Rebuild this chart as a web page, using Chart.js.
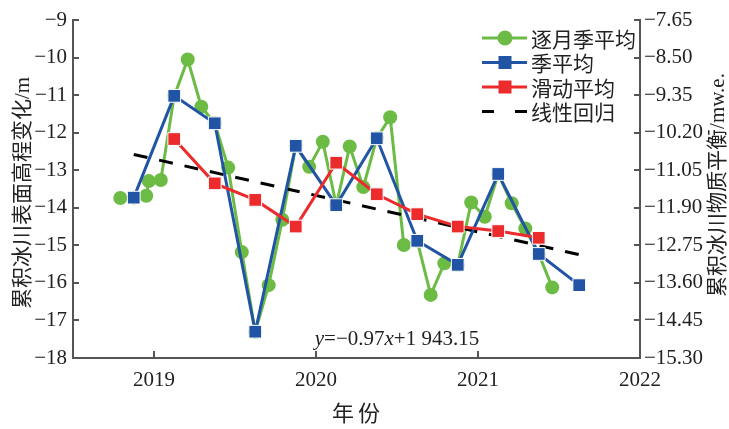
<!DOCTYPE html>
<html>
<head>
<meta charset="utf-8">
<script src="https://cdn.jsdelivr.net/npm/chart.js@4/dist/chart.umd.min.js"></script>
<style>
  html, body { margin: 0; padding: 0; background: #ffffff; }
  canvas { display: block; }
</style>
</head>
<body>
<canvas id="chart" width="729" height="429"></canvas>
<script>
// Monthly-rolling seasonal mean (decimal year, elevation change in m)
const monthlyX = [2018.792, 2018.875, 2018.952, 2018.968, 2019.042, 2019.125, 2019.208, 2019.292,
                  2019.375, 2019.458, 2019.542, 2019.625, 2019.708, 2019.792, 2019.875, 2019.958,
                  2020.042, 2020.125, 2020.208, 2020.292, 2020.375, 2020.458, 2020.542, 2020.625,
                  2020.708, 2020.792, 2020.875, 2020.958, 2021.042, 2021.125, 2021.208, 2021.292,
                  2021.375, 2021.458];
const monthlyY = [-13.74, -13.73, -13.68, -13.29, -13.26, -11.02, -10.05, -11.31,
                  -11.75, -12.93, -15.18, -17.30, -16.06, -14.32, -12.35, -12.91,
                  -12.24, -13.93, -12.37, -13.45, -12.15, -11.59, -14.99, -14.88,
                  -16.32, -15.48, -15.52, -13.86, -14.24, -13.10, -13.88, -14.55,
                  -15.23, -16.12];

// Seasonal mean
const quarterX = [2018.875, 2019.125, 2019.375, 2019.625, 2019.875, 2020.125,
                  2020.375, 2020.625, 2020.875, 2021.125, 2021.375, 2021.625];
const quarterY = [-13.73, -11.02, -11.75, -17.30, -12.35, -13.93,
                  -12.15, -14.88, -15.52, -13.10, -15.23, -16.06];

// Moving average
const movingX = [2019.125, 2019.375, 2019.625, 2019.875, 2020.125,
                 2020.375, 2020.625, 2020.875, 2021.125, 2021.375];
const movingY = [-12.17, -13.35, -13.79, -14.50, -12.80,
                 -13.64, -14.17, -14.50, -14.62, -14.80];

// Linear regression line: start value and slope (m per year)
const trendX = [2018.875, 2021.625];
const trendStart = -12.58;
const trendSlope = -0.97;

// Axis ticks
const yearTicks = [2019, 2020, 2021, 2022];
const leftTicks = [-18, -17, -16, -15, -14, -13, -12, -11, -10, -9];
const rightTicks = [-15.30, -14.45, -13.60, -12.75, -11.90, -11.05, -10.20, -9.35, -8.50, -7.65];

const seriesNames = ['逐月季平均', '季平均', '滑动平均', '线性回归'];

const GREEN = '#6cbb45';
const BLUE = '#2154a4';
const RED = '#ec2b2d';
const AXIS = '#555555';
const TEXT = '#222222';
const SERIF = "'Liberation Serif', 'Times New Roman', serif";
const CJK = "'Noto Sans CJK SC', sans-serif";
const MIXED = "'Liberation Serif', 'Noto Sans CJK SC', serif";

const pts = (xs, ys) => xs.map((x, i) => ({ x: x, y: ys[i] }));
const trendY = trendX.map(x => trendStart + trendSlope * (x - trendX[0]));
const fmt = (v, d) => (v < 0 ? '\u2212' : '') + Math.abs(v).toFixed(d);

const decor = {
  id: 'decor',
  afterDraw(chart) {
    const ctx = chart.ctx;
    const area = chart.chartArea;
    const sx = chart.scales.x, sy = chart.scales.y, sy2 = chart.scales.y2;
    ctx.save();

    // inward tick marks
    ctx.strokeStyle = AXIS;
    ctx.lineWidth = 2;
    ctx.beginPath();
    leftTicks.forEach(v => {
      const y = Math.round(sy.getPixelForValue(v));
      ctx.moveTo(area.left, y); ctx.lineTo(area.left + 6, y);
    });
    rightTicks.forEach(v => {
      const y = Math.round(sy2.getPixelForValue(v));
      ctx.moveTo(area.right - 6, y); ctx.lineTo(area.right, y);
    });
    yearTicks.slice(0, 3).forEach(v => {
      const x = Math.round(sx.getPixelForValue(v));
      ctx.moveTo(x, area.bottom); ctx.lineTo(x, area.bottom - 7);
    });
    ctx.stroke();

    // axis titles
    ctx.fillStyle = TEXT;
    ctx.textAlign = 'center';
    ctx.textBaseline = 'middle';
    ctx.font = '21px ' + MIXED;
    ctx.save();
    ctx.translate(23, 193);
    ctx.rotate(-Math.PI / 2);
    ctx.fillText('累积冰川表面高程变化/m', 0, 0);
    ctx.restore();
    ctx.save();
    ctx.translate(718, 185);
    ctx.rotate(-Math.PI / 2);
    ctx.fillText('累积冰川物质平衡/mw.e.', 0, 0);
    ctx.restore();
    ctx.font = '22px ' + CJK;
    ctx.fillText('年', 343, 413);
    ctx.fillText('份', 369, 413);

    // regression equation
    const parts = [
      ['italic 21px ' + SERIF, 'y'],
      ['21px ' + SERIF, '=\u22120.97'],
      ['italic 21px ' + SERIF, 'x'],
      ['21px ' + SERIF, '+1 943.15']
    ];
    let total = 0;
    parts.forEach(p => { ctx.font = p[0]; total += ctx.measureText(p[1]).width; });
    let ex = 397 - total / 2;
    ctx.textAlign = 'left';
    ctx.textBaseline = 'alphabetic';
    parts.forEach(p => { ctx.font = p[0]; ctx.fillText(p[1], ex, 345); ex += ctx.measureText(p[1]).width; });

    // legend
    const rows = [38, 62.5, 87, 111.5];
    const colors = [GREEN, BLUE, RED, '#000000'];
    ctx.textBaseline = 'middle';
    rows.forEach((y, i) => {
      ctx.strokeStyle = colors[i];
      ctx.lineWidth = 3;
      ctx.beginPath();
      if (i === 3) {
        ctx.moveTo(482, y); ctx.lineTo(494, y);
        ctx.moveTo(515, y); ctx.lineTo(527, y);
      } else {
        ctx.moveTo(482, y); ctx.lineTo(527, y);
      }
      ctx.stroke();
      ctx.fillStyle = colors[i];
      if (i === 0) {
        ctx.beginPath(); ctx.arc(505, y, 7.5, 0, Math.PI * 2); ctx.fill();
      } else if (i < 3) {
        ctx.fillRect(505 - 6.5, y - 6.5, 13, 13);
      }
      ctx.fillStyle = TEXT;
      ctx.font = '21px ' + CJK;
      ctx.fillText(seriesNames[i], 531, y + 1);
    });

    ctx.restore();
  }
};

new Chart(document.getElementById('chart').getContext('2d'), {
  type: 'line',
  data: {
    datasets: [
      {
        label: seriesNames[0], data: pts(monthlyX, monthlyY), yAxisID: 'y',
        borderColor: GREEN, backgroundColor: GREEN, borderWidth: 3,
        pointStyle: 'circle', pointRadius: 7, pointBorderWidth: 0, order: 4
      },
      {
        label: seriesNames[1], data: pts(quarterX, quarterY), yAxisID: 'y',
        borderColor: BLUE, backgroundColor: BLUE, borderWidth: 3,
        pointStyle: 'rect', pointRadius: 9, pointBackgroundColor: BLUE,
        pointBorderColor: '#ffffff', pointBorderWidth: 1, order: 2
      },
      {
        label: seriesNames[2], data: pts(movingX, movingY), yAxisID: 'y',
        borderColor: RED, backgroundColor: RED, borderWidth: 3,
        pointStyle: 'rect', pointRadius: 9, pointBackgroundColor: RED,
        pointBorderColor: '#ffffff', pointBorderWidth: 1, order: 1
      },
      {
        label: seriesNames[3], data: pts(trendX, trendY), yAxisID: 'y',
        borderColor: '#000000', borderWidth: 3, borderDash: [14, 12],
        pointRadius: 0, order: 3
      }
    ]
  },
  options: {
    responsive: false,
    animation: false,
    events: [],
    layout: { padding: { top: 20, left: 0, right: 0, bottom: 0 } },
    plugins: { legend: { display: false }, tooltip: { enabled: false } },
    scales: {
      x: {
        type: 'linear', min: 2018.5, max: 2022,
        afterBuildTicks: s => { s.ticks = yearTicks.map(v => ({ value: v })); },
        afterFit: s => { s.height = 71; },
        grid: { display: false, drawTicks: false },
        border: { display: true, color: AXIS, width: 2 },
        ticks: {
          padding: 10, color: TEXT, maxRotation: 0, autoSkip: false,
          font: { family: SERIF, size: 21 }, callback: v => String(v)
        }
      },
      y: {
        position: 'left', min: -18, max: -9,
        afterBuildTicks: s => { s.ticks = leftTicks.map(v => ({ value: v })); },
        afterFit: s => { s.width = 73; },
        grid: { display: false, drawTicks: false },
        border: { display: true, color: AXIS, width: 2 },
        ticks: {
          padding: 6, color: TEXT, autoSkip: false,
          font: { family: SERIF, size: 21 }, callback: v => fmt(v, 0)
        }
      },
      y2: {
        position: 'right', min: -15.30, max: -7.65,
        afterBuildTicks: s => { s.ticks = rightTicks.map(v => ({ value: v })); },
        afterFit: s => { s.width = 89; },
        grid: { display: false, drawTicks: false },
        border: { display: true, color: AXIS, width: 2 },
        ticks: {
          padding: 4, color: TEXT, autoSkip: false,
          font: { family: SERIF, size: 21 }, callback: v => fmt(v, 2)
        }
      }
    }
  },
  plugins: [decor]
});
</script>
</body>
</html>
